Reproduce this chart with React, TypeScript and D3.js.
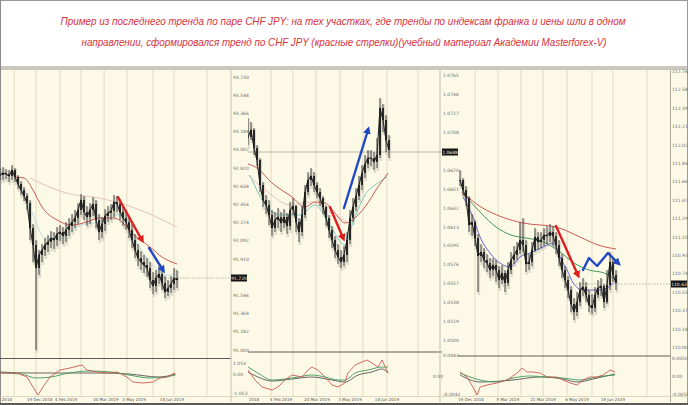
import React from "react";
import * as d3 from "d3";

const W = 688;
const H = 405;

const titleLine1 = "Пример из последнего тренда по паре CHF JPY: на тех участках, где тренды по индексам франка и иены шли в одном";
const titleLine2 = "направлении, сформировался тренд по CHF JPY (красные стрелки)(учебный материал Академии Masterforex-V)";

// ---------- Panel 1 (franc index) ----------
const p1Close = [92.75,92.77,92.76,92.74,92.80,92.73,92.66,92.60,92.54,92.47,92.22,92.05,91.82,91.95,92.00,92.05,92.08,92.12,92.10,92.16,92.18,92.14,92.20,92.24,92.28,92.32,92.40,92.50,92.38,92.33,92.40,92.46,92.30,92.18,92.26,92.34,92.37,92.39,92.48,92.46,92.38,92.32,92.28,92.20,92.10,92.00,91.92,91.88,91.85,91.82,91.70,91.64,91.72,91.76,91.67,91.58,91.62,91.66,91.72,91.70];
const p1High = [92.82,92.83,92.81,92.80,92.85,92.82,92.75,92.69,92.63,92.57,92.50,92.26,92.10,92.00,92.06,92.12,92.15,92.19,92.18,92.23,92.25,92.23,92.28,92.32,92.36,92.40,92.47,92.56,92.54,92.44,92.47,92.53,92.50,92.36,92.33,92.41,92.44,92.46,92.55,92.54,92.51,92.43,92.38,92.34,92.26,92.16,92.06,91.99,91.95,91.92,91.88,91.78,91.80,91.84,91.82,91.74,91.70,91.74,91.82,91.80];
const p1Low = [92.69,92.70,92.71,92.68,92.70,92.68,92.61,92.55,92.49,92.40,92.10,91.88,91.00,91.75,91.88,91.94,91.98,92.02,92.01,92.04,92.09,92.06,92.08,92.14,92.18,92.22,92.26,92.35,92.30,92.24,92.26,92.34,92.22,92.10,92.12,92.19,92.28,92.30,92.33,92.38,92.30,92.24,92.20,92.12,92.02,91.92,91.84,91.80,91.77,91.73,91.62,91.56,91.58,91.66,91.60,91.52,91.54,91.57,91.60,91.62];
const p1MaRed = [[5,92.73],[8,92.72],[11,92.60],[14,92.43],[19,92.30],[24,92.25],[29,92.28],[33,92.32],[38,92.32],[41,92.27],[44,92.17],[50,92.03],[54,91.93],[59,91.86]];
const p1MaPink = [[10,92.72],[22,92.57],[33,92.52],[44,92.43],[59,92.23]];
const p1MaCyan = [[6,92.68],[11,92.35],[15,92.12],[20,92.12],[27,92.25],[33,92.28],[40,92.35],[45,92.10],[50,91.88],[55,91.75],[59,91.75]];
const p1RedArrow = [[39.3,92.53],[47.3,92.10]];
const p1BlueArrow = [[49.7,92.02],[54.3,91.80]];
const p1IndRed = [[0,3],[5.7,3],[9,-1],[11,-11],[12.7,-19],[14.3,-11],[16.7,-1],[20,6],[23.3,8],[27.3,11],[29,6],[32.3,4],[35.7,3],[39,4],[42.3,-1],[44.3,-6],[47.7,-7],[51,-6],[53.3,-2],[55.7,-1],[58.3,3]];
const p1IndGreen = [[0,3],[7,2],[12,-2],[17,-1],[23,3],[30,5],[37,4],[43,1],[50,-2],[55,-1],[58.5,1]];
const p1IndGray = [[0,4],[10,3],[20,3],[33,3],[43,2],[53,-1],[58.5,2]];
const p1Grid = [4.7,12,20,27,34.7,42.3,51,58,69];
const p1Dates = ["2018","19 Dec 2018","4 Feb 2019","20 Mar 2019","3 May 2019","18 Jun 2019"];
const p1DatePos = [2.3,13.3,22,35.3,44.7,57.3];
const p1Ticks = [91.000,91.182,91.364,91.546,91.728,91.910,92.092,92.274,92.456,92.638,92.820,93.002,93.184,93.366,93.548,93.730];
const p1Last = 91.72;
const p1IndTicks = [13,2,-17];
const p1IndLabels = ["1.053","0.00","-1.053"];

// ---------- Panel 2 (yen index) ----------
const p2Close = [1.0703,1.0710,1.0692,1.0680,1.0655,1.0640,1.0635,1.0625,1.0612,1.0620,1.0623,1.0617,1.0623,1.0614,1.0630,1.0634,1.0618,1.0608,1.0625,1.0648,1.0660,1.0664,1.0655,1.0648,1.0642,1.0633,1.0622,1.0610,1.0600,1.0590,1.0583,1.0578,1.0585,1.0600,1.0622,1.0633,1.0644,1.0655,1.0667,1.0676,1.0682,1.0682,1.0678,1.0685,1.0732,1.0720,1.0700,1.0690];
const p2High = [1.0722,1.0718,1.0712,1.0695,1.0682,1.0658,1.0645,1.0640,1.0630,1.0628,1.0632,1.0628,1.0631,1.0627,1.0638,1.0642,1.0635,1.0622,1.0634,1.0655,1.0668,1.0672,1.0668,1.0658,1.0652,1.0644,1.0635,1.0625,1.0614,1.0604,1.0596,1.0590,1.0594,1.0608,1.0630,1.0642,1.0652,1.0664,1.0675,1.0685,1.0690,1.0690,1.0688,1.0702,1.0742,1.0736,1.0725,1.0705];
const p2Low = [1.0695,1.0700,1.0685,1.0674,1.0648,1.0633,1.0626,1.0615,1.0604,1.0608,1.0612,1.0608,1.0612,1.0606,1.0610,1.0625,1.0608,1.0598,1.0604,1.0622,1.0645,1.0654,1.0648,1.0642,1.0634,1.0626,1.0614,1.0602,1.0592,1.0582,1.0576,1.0572,1.0574,1.0578,1.0596,1.0618,1.0629,1.0640,1.0650,1.0662,1.0672,1.0674,1.0670,1.0672,1.0682,1.0708,1.0688,1.0682];
const p2MaRed = [[0,1.0676],[3,1.0672],[8,1.0657],[14.7,1.0643],[19,1.0633],[22.3,1.0638],[25.7,1.0637],[29,1.0627],[32.3,1.0617],[34.7,1.0620],[39,1.0633],[43.3,1.0653],[46.7,1.0667]];
const p2MaPink = [[0,1.0665],[7,1.0647],[14,1.0635],[21,1.0638],[27,1.0628],[33,1.0618]];
const p2MaTeal = [[0.7,1.0665],[4.7,1.0640],[10.7,1.0625],[17.3,1.0625],[22.3,1.0635],[27.3,1.0615],[32.3,1.0595],[34.7,1.0615],[39,1.0645],[43.3,1.0657],[46.3,1.0663]];
const p2RedArrow = [[27.3,1.0633],[31.7,1.0602]];
const p2BlueArrow = [[32,1.0632],[40,1.0710]];
const p2IndRed = [[0,6],[2.3,-4],[4.7,-11],[8,-14],[10,-11],[12.3,-4],[14.7,1],[18,-1],[20,6],[21.3,9],[23.3,6],[25.7,-1],[28,-9],[30,-11],[32.3,-7],[33.3,3],[35.7,11],[38,14],[39.7,16],[41.3,13],[43.3,9],[44.7,16],[45.7,9],[46.7,3]];
const p2IndGreen = [[0,9],[3.3,3],[8,-4],[12.3,-3],[16.7,-1],[21.3,1],[25.7,-1],[30,-4],[32.3,-4],[35.7,3],[40,6],[44.7,9],[46.7,9]];
const p2IndGray = [[0,4],[3.3,-1],[8,-5],[14.7,-3],[21.3,-1],[28,-4],[32.3,-6],[36.7,1],[41.3,4],[44.7,7],[46.7,3]];
const p2Grid = [7.7,15,22.7,30.7,38.3,46.3,56.7];
const p2Dates = ["2018","4 Feb 2019","20 Mar 2019","3 May 2019","18 Jun 2019"];
const p2DatePos = [2,11,23,34,46.3];
const p2Ticks = [1.0500,1.0519,1.0538,1.0557,1.0576,1.0595,1.0613,1.0632,1.0651,1.0670,1.0689,1.0708,1.0727,1.0746,1.0765];
const p2Last = 1.0688;
const p2IndTicks = [21,0,-18];
const p2IndLabels = ["0.0042","0.00","-0.0042"];

// ---------- Panel 3 (CHF JPY) ----------
const p3Close = [111.67,111.57,111.49,111.22,111.25,111.09,110.91,110.95,110.87,110.84,110.77,110.82,110.77,110.67,110.74,110.64,110.77,110.87,110.92,110.97,111.07,111.02,110.83,110.85,110.97,111.10,111.05,111.07,111.12,111.11,111.15,111.11,111.02,110.89,110.77,110.67,110.57,110.43,110.35,110.45,110.57,110.60,110.52,110.42,110.39,110.52,110.59,110.61,110.45,110.62,110.85,110.72,110.64];
const p3High = [111.77,111.69,111.61,111.51,111.33,111.27,111.13,111.03,110.99,110.93,110.89,110.89,110.87,110.81,110.82,110.77,110.85,110.95,111.01,111.05,111.25,111.29,111.07,110.93,111.05,111.19,111.15,111.15,111.19,111.21,111.23,111.21,111.15,111.07,110.93,110.81,110.71,110.61,110.49,110.55,110.65,110.69,110.65,110.57,110.53,110.60,110.67,110.69,110.63,110.77,110.95,110.89,110.77];
const p3Low = [111.61,111.51,111.41,111.15,111.11,111.01,110.55,110.85,110.79,110.75,110.69,110.71,110.65,110.59,110.63,110.55,110.61,110.73,110.83,110.87,110.93,110.95,110.75,110.77,110.81,110.95,110.97,110.99,111.01,111.03,111.05,111.01,110.93,110.81,110.69,110.59,110.49,110.35,110.27,110.31,110.41,110.51,110.45,110.35,110.33,110.35,110.49,110.51,110.39,110.43,110.57,110.65,110.57];
const p3MaRed = [[0.5,111.55],[7,111.40],[14,111.30],[21,111.24],[32,111.20],[40,111.10],[46,111.02],[52,110.98]];
const p3MaGreen = [[1,111.54],[7,111.34],[12,111.20],[17,111.12],[22,111.09],[27,111.06],[33,110.96],[38,110.84],[43,110.77],[48,110.74],[52,110.67]];
const p3MaBlue = [[1,111.50],[4.3,111.30],[6.7,111.10],[10,110.94],[13.3,110.84],[16.7,110.80],[20,110.90],[23.3,110.94],[27.7,111.00],[31,111.04],[33.3,110.90],[35.7,110.77],[37.7,110.64],[41,110.57],[45.7,110.57],[49,110.59],[51,110.64]];
const p3RedArrow = [[32,111.21],[39.3,110.72]];
const p3BlueArrow = [[41,110.77],[43,110.89],[45.7,110.81],[49.3,110.94],[52.7,110.84]];
const p3IndRed = [[0,4],[2.3,-1],[4.3,-11],[5.7,-19],[6.7,-11],[9,-9],[12.3,-7],[15.7,-4],[19,3],[20.7,8],[22.3,4],[24.3,4],[26.7,3],[29,-1],[32.3,-1],[34.3,-4],[36.7,-7],[39,-9],[41,-4],[43.3,-1],[45.7,-1],[47.7,1],[50,6],[51.7,4]];
const p3IndGreen = [[0,3],[6.7,-4],[12.3,-6],[17.7,-2],[23.3,0],[29,-1],[34.3,-2],[40,-4],[45.7,-1],[51.7,1]];
const p3IndGray = [[0,1],[6.7,-6],[17.7,-4],[26.7,-1],[34.3,-3],[39,-6],[45.7,-2],[51.7,2]];
const p3Grid = [5,12.7,20.3,27.7,35.7,44,51,62.3];
const p3Dates = ["19 Dec 2018","5 Mar 2019","21 Mar 2019","6 May 2019","19 Jun 2019"];
const p3DatePos = [3.7,16,27.7,39,51];
const p3Ticks = [110.00,110.18,110.37,110.55,110.74,110.92,111.10,111.29,111.47,111.66,111.84,112.02,112.21,112.39,112.58,112.76];
const p3Last = 110.63;
const p3IndTicks = [18,0,-18];
const p3IndLabels = ["0.0050","0.00","-0.0050"];

// ---------- layout / style ----------
const BG = "#fdf9e7";
const GRID = "#e3dbc3";
const AX_FONT = "DejaVu Sans";
const TOP = 70;
const IND_BOTTOM = 396;
const yInd = d3.scaleLinear().domain([-20, 20]).range([396, 356]);

const panels = [
  {
    id: "p1", close: p1Close, high: p1High, low: p1Low,
    xs: d3.scaleLinear().domain([0, 59]).range([0, 177]),
    ys: d3.scaleLinear().domain([91.0, 93.73]).range([350, 77]),
    clip: [0, 231], sepY: 358.5, sepX: [0, 231],
    grid: p1Grid, dates: p1Dates, datePos: p1DatePos,
    mas: [
      { pts: p1MaPink, color: "#e6c4bf", w: 1 },
      { pts: p1MaCyan, color: "#b6dfe0", w: 1 },
      { pts: p1MaRed, color: "#cc5a52", w: 1 },
    ],
    arrows: [
      { pts: p1RedArrow, color: "#dd1f1f", m: "ahR" },
      { pts: p1BlueArrow, color: "#2148c4", m: "ahB" },
    ],
    ind: [p1IndGray, p1IndGreen, p1IndRed],
    ticks: p1Ticks, tickX: 233, fmt: d3.format(".3f"), last: p1Last,
    lastLine: [150, 231], lastDash: "1.5,1.5", boxX: 231,
    indTicks: p1IndTicks, indLabels: p1IndLabels, indX: 233,
  },
  {
    id: "p2", close: p2Close, high: p2High, low: p2Low,
    xs: d3.scaleLinear().domain([0, 47]).range([248, 389]),
    ys: d3.scaleLinear().domain([1.05, 1.0765]).range([340, 75]),
    clip: [248, 440], sepY: 352, sepX: [248, 442],
    grid: p2Grid, dates: p2Dates, datePos: p2DatePos,
    mas: [
      { pts: p2MaPink, color: "#e6c4bf", w: 1 },
      { pts: p2MaTeal, color: "#7cc9bd", w: 1 },
      { pts: p2MaRed, color: "#cc5a52", w: 1 },
    ],
    arrows: [
      { pts: p2RedArrow, color: "#dd1f1f", m: "ahR" },
      { pts: p2BlueArrow, color: "#2148c4", m: "ahB" },
    ],
    ind: [p2IndGray, p2IndGreen, p2IndRed],
    ticks: p2Ticks, tickX: 443, fmt: d3.format(".4f"), last: p2Last,
    lastLine: [248, 442], lastDash: null, boxX: 442,
    indTicks: p2IndTicks, indLabels: p2IndLabels, indX: 443,
  },
  {
    id: "p3", close: p3Close, high: p3High, low: p3Low,
    xs: d3.scaleLinear().domain([0, 52]).range([460, 616]),
    ys: d3.scaleLinear().domain([110.0, 112.76]).range([347, 71]),
    clip: [458, 670], sepY: 356, sepX: [458, 670],
    grid: p3Grid, dates: p3Dates, datePos: p3DatePos,
    mas: [
      { pts: p3MaRed, color: "#cc5a52", w: 1 },
      { pts: p3MaGreen, color: "#3e9a58", w: 1 },
      { pts: p3MaBlue, color: "#6464c8", w: 1 },
    ],
    arrows: [
      { pts: p3RedArrow, color: "#dd1f1f", m: "ahR" },
      { pts: p3BlueArrow, color: "#2148c4", m: "ahB" },
    ],
    ind: [p3IndGray, p3IndGreen, p3IndRed],
    ticks: p3Ticks, tickX: 672, fmt: d3.format(".2f"), last: p3Last,
    lastLine: [573, 670], lastDash: "1.5,1.5", boxX: 671,
    indTicks: p3IndTicks, indLabels: p3IndLabels, indX: 672,
  },
];

const indColors = ["#555555", "#3e9a58", "#cc5a52"];

function Panel({ p }: any) {
  const { xs, ys } = p;
  const maLine = d3.line<any>().x((d) => xs(d[0])).y((d) => ys(d[1])).curve(d3.curveMonotoneX);
  const arrowLine = d3.line<any>().x((d) => xs(d[0])).y((d) => ys(d[1]));
  const closeLine = d3.line<number>().x((_, i) => xs(i)).y((d) => ys(d));
  const indSmooth = d3.line<any>().x((d) => xs(d[0])).y((d) => yInd(d[1])).curve(d3.curveMonotoneX);
  const indJag = d3.line<any>().x((d) => xs(d[0])).y((d) => yInd(d[1]));
  const clipId = "clip-" + p.id;
  const lastY = ys(p.last);
  return (
    <g>
      <defs>
        <clipPath id={clipId}>
          <rect x={p.clip[0]} y={TOP} width={p.clip[1] - p.clip[0]} height={p.sepY - TOP} />
        </clipPath>
        <clipPath id={clipId + "i"}>
          <rect x={p.clip[0]} y={p.sepY} width={p.clip[1] - p.clip[0]} height={IND_BOTTOM - p.sepY} />
        </clipPath>
      </defs>
      {p.grid.map((g: number, i: number) => (
        <line key={"g" + i} x1={xs(g)} x2={xs(g)} y1={TOP} y2={IND_BOTTOM} stroke={GRID} strokeWidth={1} />
      ))}
      {/* last price line */}
      <line x1={p.lastLine[0]} x2={p.lastLine[1]} y1={lastY} y2={lastY} stroke="#a9a294" strokeWidth={0.8}
        strokeDasharray={p.lastDash || undefined} />
      <g clipPath={`url(#${clipId})`}>
        {p.close.map((c: number, i: number) => (
          <line key={"s" + i} x1={xs(i) + 0.8} x2={xs(i) + 0.8} y1={ys(p.high[i]) + 1} y2={ys(p.low[i]) + 3}
            stroke="#aaa598" strokeWidth={2.6} strokeOpacity={0.35} />
        ))}
        {p.mas.map((m: any, i: number) => (
          <path key={"m" + i} d={maLine(m.pts) || ""} fill="none" stroke={m.color} strokeWidth={m.w} />
        ))}
        <path d={closeLine(p.close) || ""} fill="none" stroke="#2a2a2a" strokeWidth={1.1} strokeLinejoin="round" />
        {p.close.map((c: number, i: number) => {
          const o = i === 0 ? c : p.close[i - 1];
          const top = ys(Math.max(o, c));
          const bot = ys(Math.min(o, c));
          return (
            <g key={"c" + i}>
              <line x1={xs(i)} x2={xs(i)} y1={ys(p.high[i])} y2={ys(p.low[i])} stroke="#333" strokeWidth={0.9} />
              <rect x={xs(i) - 0.9} y={top} width={1.8} height={Math.max(0.8, bot - top)} fill="#1c1c1c" />
            </g>
          );
        })}
        {p.arrows.map((a: any, i: number) => (
          <path key={"a" + i} d={arrowLine(a.pts) || ""} fill="none" stroke={a.color} strokeWidth={2.4}
            strokeLinejoin="round" strokeLinecap="round" markerEnd={`url(#${a.m})`} />
        ))}
      </g>
      {/* indicator */}
      <line x1={p.sepX[0]} x2={p.sepX[1]} y1={p.sepY} y2={p.sepY} stroke="#5a5a5a" strokeWidth={1} />
      <g clipPath={`url(#${clipId}i)`}>
        {p.ind.map((pts: any, i: number) => (
          <path key={"i" + i} d={(i === 2 ? indJag(pts) : indSmooth(pts)) || ""} fill="none"
            stroke={indColors[i]} strokeWidth={0.9} />
        ))}
      </g>
      {/* date labels */}
      {p.dates.map((t: string, i: number) => (
        <text key={"d" + i} x={xs(p.datePos[i])} y={401} fontSize={4} fontFamily={AX_FONT} fill="#555"
          textAnchor="middle">{t}</text>
      ))}
    </g>
  );
}

function AxisLabels({ p }: any) {
  const lastY = p.ys(p.last);
  return (
    <g>
      {p.ticks.filter((t: number) => Math.abs(p.ys(t) - lastY) > 4).map((t: number, i: number) => (
        <text key={"t" + i} x={p.tickX} y={p.ys(t) + 1.6} fontSize={4.5} fontFamily={AX_FONT} fill="#6a6a6a">
          {p.fmt(t)}
        </text>
      ))}
      {p.indTicks.map((t: number, i: number) => (
        <text key={"it" + i} x={p.indX - (p.indLabels[i] === "0.00" && p.id === "p2" ? 10 : 0)} y={yInd(t) + 1.6}
          fontSize={4.5} fontFamily={AX_FONT} fill="#6a6a6a">{p.indLabels[i]}</text>
      ))}
      <rect x={p.boxX} y={lastY - 3.5} width={16} height={7} fill="#151515" />
      <text x={p.boxX + 8} y={lastY + 1.6} fontSize={4.5} fontFamily={AX_FONT} fill="#f4e6d8" textAnchor="middle">
        {p.fmt(p.last)}
      </text>
    </g>
  );
}

export default function App() {
  return (
    <svg width={W} height={H} viewBox={`0 0 ${W} ${H}`}
      style={{ position: "absolute", left: 0, top: 0, display: "block" }}>
      <defs>
        <marker id="ahR" viewBox="0 0 10 10" refX="5" refY="5" markerWidth="3.2" markerHeight="3.2" orient="auto">
          <path d="M0,0 L10,5 L0,10 z" fill="#dd1f1f" />
        </marker>
        <marker id="ahB" viewBox="0 0 10 10" refX="5" refY="5" markerWidth="3.2" markerHeight="3.2" orient="auto">
          <path d="M0,0 L10,5 L0,10 z" fill="#2148c4" />
        </marker>
      </defs>
      <rect x={0} y={0} width={W} height={H} fill="#ffffff" />
      <rect x={0} y={TOP} width={W} height={H - TOP} fill={BG} />
      <rect x={0} y={66} width={W} height={4} fill="#cbc7bf" />
      <line x1={0} x2={W} y1={0.5} y2={0.5} stroke="#9a9a9a" strokeWidth={1} />
      <line x1={0.5} x2={0.5} y1={0} y2={H} stroke="#8a8a8a" strokeWidth={1} />
      <line x1={W - 0.5} x2={W - 0.5} y1={0} y2={H} stroke="#9a9a9a" strokeWidth={1} />
      <text x={343} y={25} fontSize={10.4} fontStyle="italic" fontFamily="Liberation Sans" fill="#d8323c"
        textAnchor="middle" textLength={565} lengthAdjust="spacingAndGlyphs">{titleLine1}</text>
      <text x={344} y={46} fontSize={10.4} fontStyle="italic" fontFamily="Liberation Sans" fill="#d8323c"
        textAnchor="middle" textLength={525} lengthAdjust="spacingAndGlyphs">{titleLine2}</text>

      {panels.map((p) => <Panel key={p.id} p={p} />)}

      {/* panel borders and axis lines */}
      <line x1={231} x2={231} y1={TOP} y2={IND_BOTTOM + 6} stroke="#c4bfb2" strokeWidth={1} />
      <line x1={440} x2={440} y1={TOP} y2={IND_BOTTOM + 6} stroke="#c4bfb2" strokeWidth={1} />
      <line x1={670.5} x2={670.5} y1={TOP} y2={IND_BOTTOM + 6} stroke="#b0aa9c" strokeWidth={1} />
      <line x1={0} x2={W} y1={IND_BOTTOM + 0.5} y2={IND_BOTTOM + 0.5} stroke="#d6cfb8" strokeWidth={0.8} />
      {panels.map((p) => <AxisLabels key={"ax" + p.id} p={p} />)}
      <rect x={0} y={403} width={W} height={2} fill="#5a5a5a" />
    </svg>
  );
}
